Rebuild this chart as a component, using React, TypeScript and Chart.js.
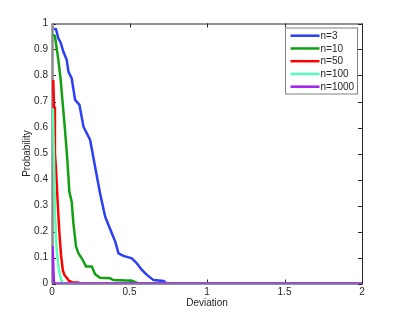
import React, { useEffect, useRef } from "react";
import { Chart, registerables } from "chart.js";

Chart.register(...registerables);

const seriesLabels = ["n=3", "n=10", "n=50", "n=100", "n=1000"];
const seriesColors = ["#2b3ff5", "#12a012", "#ff0000", "#55ffb4", "#a020f0"];

const x3 = [0.013, 0.026, 0.041, 0.056, 0.073, 0.095, 0.106, 0.127, 0.149, 0.177, 0.203, 0.246, 0.278, 0.31, 0.343, 0.386, 0.408, 0.429, 0.461, 0.515, 0.547, 0.58, 0.612, 0.655, 0.72, 0.74, 2];
const y3 = [0.98, 0.978, 0.943, 0.926, 0.892, 0.86, 0.815, 0.789, 0.706, 0.687, 0.603, 0.552, 0.449, 0.347, 0.257, 0.193, 0.161, 0.116, 0.106, 0.097, 0.078, 0.052, 0.033, 0.013, 0.01, 0, 0];

const x10 = [0.008, 0.019, 0.041, 0.056, 0.069, 0.084, 0.099, 0.112, 0.127, 0.138, 0.155, 0.171, 0.192, 0.22, 0.257, 0.278, 0.31, 0.375, 0.396, 0.515, 0.558, 2];
const y10 = [0.956, 0.952, 0.86, 0.783, 0.693, 0.59, 0.475, 0.353, 0.315, 0.232, 0.142, 0.116, 0.097, 0.065, 0.065, 0.036, 0.022, 0.02, 0.013, 0.011, 0, 0];

const x50 = [0.008, 0.013, 0.019, 0.025, 0.036, 0.047, 0.058, 0.07, 0.08, 0.095, 0.11, 0.13, 0.17, 0.18, 2];
const y50 = [0.783, 0.68, 0.5, 0.45, 0.32, 0.2, 0.11, 0.05, 0.033, 0.022, 0.01, 0.005, 0.004, 0, 0];

const x100 = [0.006, 0.012, 0.02, 0.03, 0.045, 0.06, 0.07, 2];
const y100 = [0.674, 0.5, 0.26, 0.13, 0.052, 0.013, 0, 0];

const x1000 = [0.004, 0.012, 0.02, 2];
const y1000 = [0.144, 0.005, 0, 0];

const xTickValues = [0, 0.5, 1, 1.5, 2];
const xTickLabels = ["0", "0.5", "1", "1.5", "2"];
const yTickValues = [0, 0.1, 0.2, 0.3, 0.4, 0.5, 0.6, 0.7, 0.8, 0.9, 1];
const yTickLabels = ["0", "0.1", "0.2", "0.3", "0.4", "0.5", "0.6", "0.7", "0.8", "0.9", "1"];

const allX = [x3, x10, x50, x100, x1000];
const allY = [y3, y10, y50, y100, y1000];

const FONT = "'Liberation Sans', Arial, Helvetica, sans-serif";

const boxPlugin = {
  id: "matlabBox",
  beforeDatasetsDraw(chart: any) {
    const { ctx, chartArea: a, scales } = chart;
    ctx.save();
    ctx.strokeStyle = "#262626";
    ctx.lineWidth = 1;
    ctx.strokeRect(a.left + 0.5, a.top + 0.5, a.right - a.left, a.bottom - a.top);
    ctx.beginPath();
    const tl = 4;
    xTickValues.forEach((v) => {
      const px = Math.round(scales.x.getPixelForValue(v)) + 0.5;
      ctx.moveTo(px, a.bottom);
      ctx.lineTo(px, a.bottom - tl);
      ctx.moveTo(px, a.top);
      ctx.lineTo(px, a.top + tl);
    });
    yTickValues.forEach((v) => {
      const py = Math.round(scales.y.getPixelForValue(v)) + 0.5;
      ctx.moveTo(a.left, py);
      ctx.lineTo(a.left + tl, py);
      ctx.moveTo(a.right, py);
      ctx.lineTo(a.right - tl, py);
    });
    ctx.stroke();
    ctx.strokeStyle = "#8a8a8a";
    ctx.lineWidth = 2.5;
    ctx.beginPath();
    ctx.moveTo(a.left + 0.5, a.top);
    ctx.lineTo(a.left + 0.5, a.bottom);
    ctx.stroke();
    ctx.restore();
  },
  afterDraw(chart: any) {
    const { ctx } = chart;
    ctx.save();
    const bx = 285, by = 27.5, bw = 72, bh = 66;
    ctx.fillStyle = "#ffffff";
    ctx.fillRect(bx, by, bw, bh);
    ctx.strokeStyle = "#808080";
    ctx.lineWidth = 1;
    ctx.strokeRect(bx + 0.5, by + 0.5, bw, bh);
    ctx.font = `10px ${FONT}`;
    ctx.textBaseline = "middle";
    ctx.textAlign = "left";
    seriesLabels.forEach((lab, i) => {
      const yy = 35.7 + i * 12.75;
      ctx.strokeStyle = seriesColors[i];
      ctx.lineWidth = 2.5;
      ctx.beginPath();
      ctx.moveTo(290.5, yy);
      ctx.lineTo(319.5, yy);
      ctx.stroke();
      ctx.fillStyle = "#262626";
      ctx.fillText(lab, 320.5, yy + 0.5);
    });
    ctx.restore();
  },
};

export default function App() {
  const ref = useRef<HTMLCanvasElement>(null);
  useEffect(() => {
    if (!ref.current) return;
    const datasets = seriesLabels.map((lab, i) => ({
      label: lab,
      data: allX[i].map((x, j) => ({ x, y: allY[i][j] })),
      borderColor: seriesColors[i],
      backgroundColor: seriesColors[i],
      borderWidth: 2.5,
      pointRadius: 0,
      tension: 0,
      fill: false,
      order: 5 - i,
    }));
    const chart = new Chart(ref.current, {
      type: "line",
      data: { datasets },
      plugins: [boxPlugin],
      options: {
        animation: false,
        responsive: false,
        maintainAspectRatio: false,
        layout: { padding: { top: 23.5, right: 37, left: 0, bottom: 0 } },
        plugins: { legend: { display: false }, tooltip: { enabled: false } },
        scales: {
          x: {
            type: "linear",
            min: 0,
            max: 2,
            afterFit: (s: any) => { s.height = 35.5; },
            afterBuildTicks: (s: any) => { s.ticks = xTickValues.map((v) => ({ value: v })); },
            grid: { display: false, drawTicks: false },
            border: { display: false },
            ticks: {
              padding: 3,
              color: "#262626",
              font: { family: FONT, size: 10 },
              maxRotation: 0,
              autoSkip: false,
              callback: (v: any) => xTickLabels[xTickValues.indexOf(Number(v))] ?? "",
            },
            title: {
              display: true,
              text: "Deviation",
              color: "#262626",
              font: { family: FONT, size: 10 },
              padding: { top: 0, bottom: 10 },
            },
          },
          y: {
            type: "linear",
            min: 0,
            max: 1,
            afterFit: (s: any) => { s.width = 52; },
            afterBuildTicks: (s: any) => { s.ticks = yTickValues.map((v) => ({ value: v })); },
            grid: { display: false, drawTicks: false },
            border: { display: false },
            ticks: {
              padding: 4,
              color: "#262626",
              font: { family: FONT, size: 10 },
              autoSkip: false,
              callback: (v: any) => yTickLabels[yTickValues.indexOf(Number(v))] ?? "",
            },
            title: {
              display: true,
              text: "Probability",
              color: "#262626",
              font: { family: FONT, size: 10 },
              padding: { top: 21, bottom: 0 },
            },
          },
        },
      },
    });
    return () => chart.destroy();
  }, []);
  return (
    <div style={{ position: "fixed", left: 0, top: 0, width: 399, height: 319, background: "#fff" }}>
      <canvas ref={ref} width={399} height={319} style={{ width: 399, height: 319, display: "block" }} />
    </div>
  );
}
